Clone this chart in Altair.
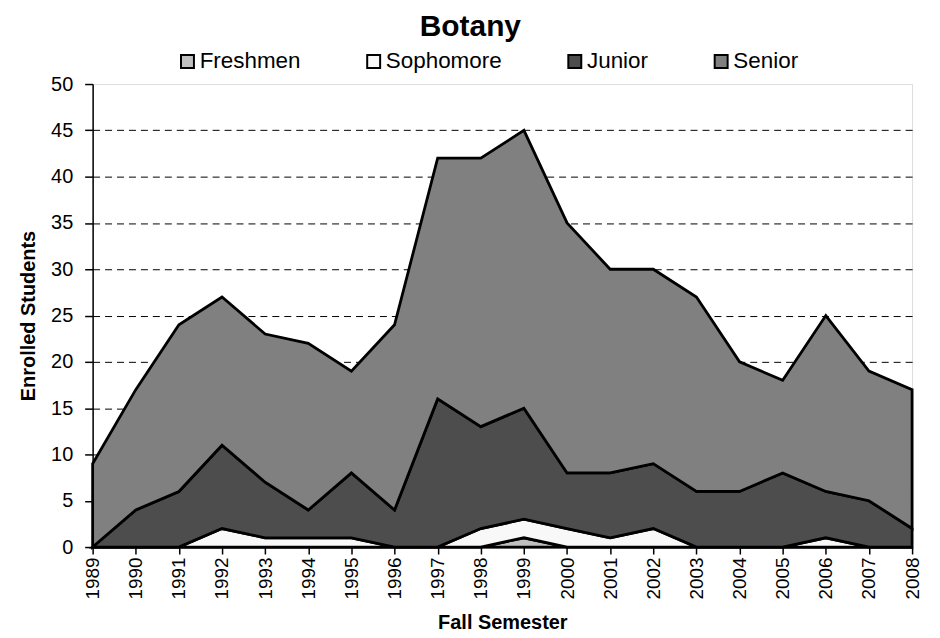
import altair as alt
import pandas as pd

years = list(range(1989, 2009))
freshmen = [0, 0, 0, 0, 0, 0, 0, 0, 0, 0, 1, 0, 0, 0, 0, 0, 0, 0, 0, 0]
sophomore = [0, 0, 0, 2, 1, 1, 1, 0, 0, 2, 2, 2, 1, 2, 0, 0, 0, 1, 0, 0]
junior = [0, 4, 6, 9, 6, 3, 7, 4, 16, 11, 12, 6, 7, 7, 6, 6, 8, 5, 5, 2]
senior = [9, 13, 18, 16, 16, 18, 11, 20, 26, 29, 30, 27, 22, 21, 21, 14, 10, 19, 14, 15]

classes = ["Freshmen", "Sophomore", "Junior", "Senior"]
colors = ["#C0C0C0", "#F8F8F8", "#4D4D4D", "#808080"]
series = [freshmen, sophomore, junior, senior]

rows = []
for k, (name, vals) in enumerate(zip(classes, series)):
    for y, v in zip(years, vals):
        rows.append({"year": y, "cls": name, "n": v, "ord": k})
df = pd.DataFrame(rows)

font = "Liberation Sans"

chart = alt.Chart(df).mark_area(stroke="black", strokeWidth=2.8, strokeJoin="miter").encode(
    x=alt.X("year:Q", title="Fall Semester",
            scale=alt.Scale(domain=[1989, 2008], nice=False, zero=False),
            axis=alt.Axis(values=years, format="d", labelAngle=-90, grid=False,
                          labelAlign="right", labelBaseline="middle",
                          labelFontSize=19, titleFontSize=20, titleFontWeight="bold",
                          tickSize=7, tickColor="black", domainColor="black",
                          domainWidth=1.5, tickWidth=1.5,
                          labelColor="black", titleColor="black",
                          labelPadding=3, titlePadding=14)),
    y=alt.Y("n:Q", stack="zero", title="Enrolled Students",
            scale=alt.Scale(domain=[0, 50], nice=False),
            axis=alt.Axis(values=list(range(0, 51, 5)), grid=True, gridDash=[7, 5],
                          gridColor="black", gridWidth=1,
                          gridOpacity=alt.condition("datum.value >= 50 || datum.value <= 0",
                                                    alt.value(0), alt.value(1)),
                          labelFontSize=20, titleFontSize=20, titleFontWeight="bold",
                          tickSize=8, tickColor="black", domainColor="black",
                          domainWidth=1.5, tickWidth=1.5,
                          labelColor="black", titleColor="black",
                          labelPadding=12, titlePadding=12)),
    color=alt.Color("cls:N", scale=alt.Scale(domain=classes, range=colors),
                    legend=alt.Legend(title=None, orient="none", direction="horizontal",
                                      legendX=84, legendY=-34,
                                      symbolType="square", symbolSize=169,
                                      symbolStrokeColor="black", symbolStrokeWidth=2,
                                      symbolOpacity=1,
                                      labelFontSize=22.5, labelColor="black",
                                      labelOffset=1, columnPadding=62)),
    order=alt.Order("ord:Q", sort="ascending"),
).properties(
    width=823, height=465,
    title=alt.TitleParams("Botany", fontSize=30, fontWeight="bold", color="black",
                          anchor="middle", frame="bounds", offset=8),
    padding={"left": 10, "right": 10, "top": 3, "bottom": 5},
).configure_view(
    stroke="#808080", strokeWidth=2.5
).configure(
    font=font
)

chart.save("out.html", embed_options={"renderer": "svg", "actions": False})
